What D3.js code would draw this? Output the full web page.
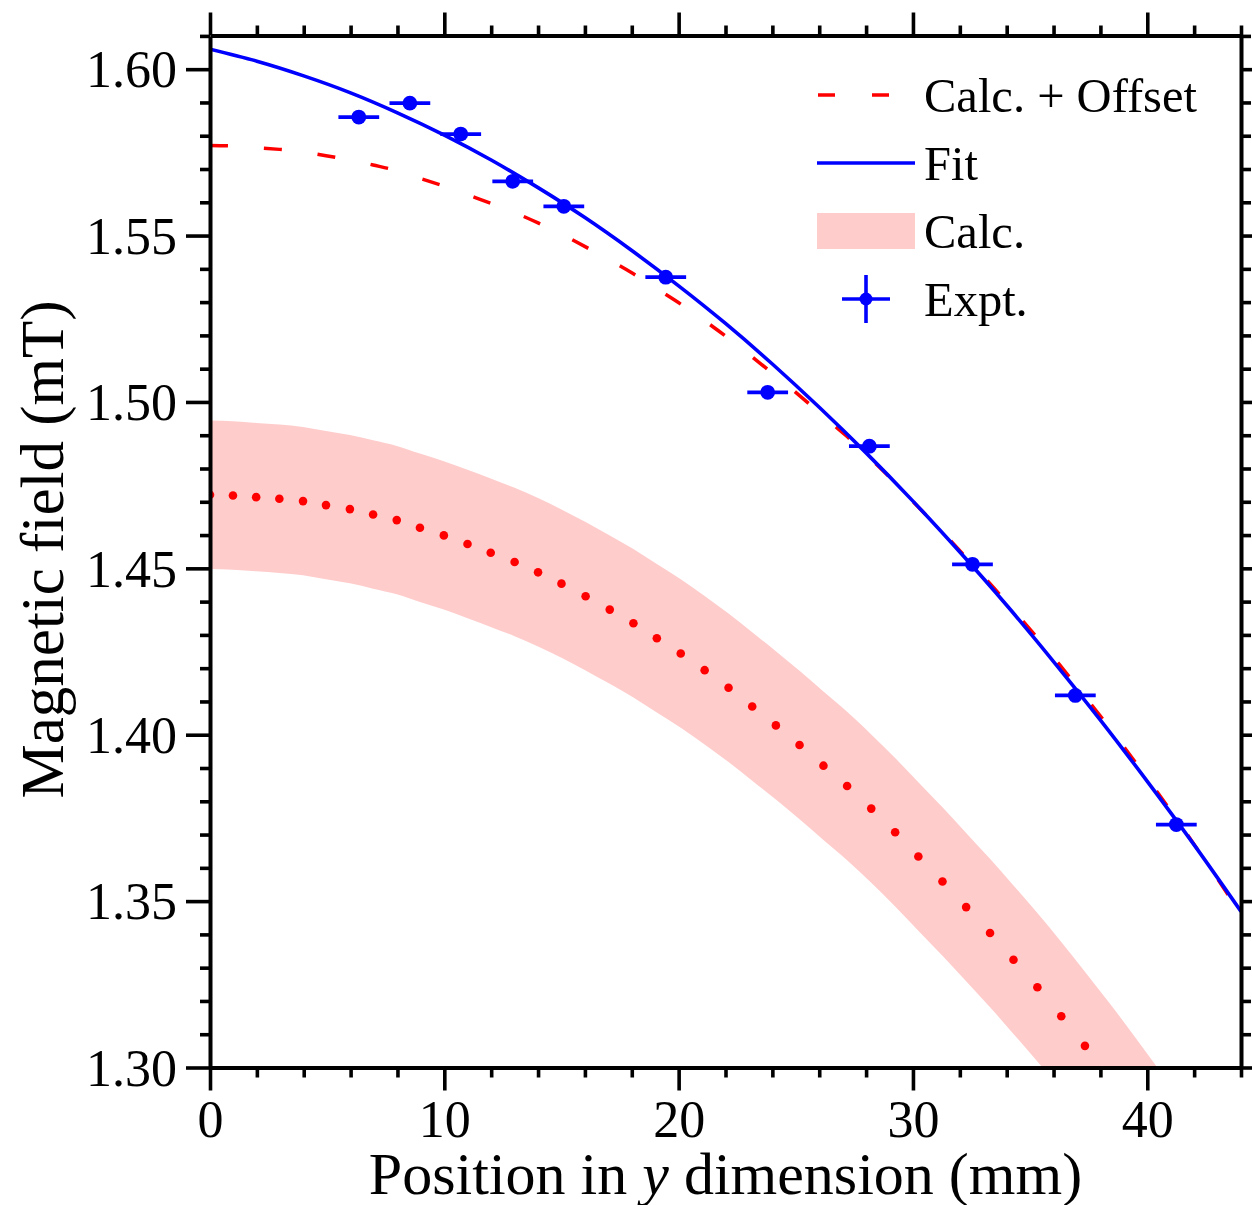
<!DOCTYPE html>
<html><head><meta charset="utf-8">
<script src="https://cdn.jsdelivr.net/npm/d3@7"></script>
<style>
body{margin:0;background:#fff}
svg{display:block}
text{font-family:"Liberation Serif","Times New Roman",Times,serif;fill:#000}
</style>
</head><body>
<svg id="chart" width="1252" height="1205"></svg>
<script>
// ---------- data ----------
const exptX    = [6.35, 8.53, 10.70, 12.92, 15.10, 19.45, 23.80, 28.14, 32.54, 36.93, 41.24];
const exptY    = [1.5856, 1.5898, 1.5805, 1.5663, 1.5588, 1.5375, 1.5029, 1.4867, 1.4512, 1.4118, 1.3730];
const exptXErr = [0.87, 0.87, 0.87, 0.87, 0.87, 0.87, 0.87, 0.87, 0.87, 0.87, 0.87];
const exptYErr = [0.0015, 0.0015, 0.0015, 0.0015, 0.0015, 0.0015, 0.0015, 0.0015, 0.0015, 0.0015, 0.0015];

const fitX = [0, 2, 4, 6, 8, 10, 12, 14, 16, 18, 20, 22, 24, 26, 28, 30, 32, 34, 36, 38, 40, 42, 44];
const fitY = [1.6060, 1.6024, 1.5980, 1.5929, 1.5869, 1.5802, 1.5727, 1.5644, 1.5554, 1.5455, 1.5349,
              1.5236, 1.5114, 1.4984, 1.4847, 1.4702, 1.4549, 1.4389, 1.4220, 1.4044, 1.3860, 1.3669, 1.3469];

const calcX = [0, 0.98, 1.97, 2.96, 3.97, 4.95, 5.97, 6.96, 7.97, 8.96, 9.98, 10.99, 11.98, 13.00, 14.00,
               15.00, 16.03, 17.06, 18.07, 19.07, 20.09, 21.11, 22.13, 23.14, 24.15, 25.16, 26.18, 27.19,
               28.22, 29.24, 30.23, 31.26, 32.27, 33.29, 34.29, 35.31, 36.33, 37.34, 38.36, 39.38, 40.40,
               41.42, 42.44, 43.46, 44.48];
const calcY = [1.4721, 1.4719, 1.4714, 1.4709, 1.4702, 1.4690, 1.4678, 1.4662, 1.4645, 1.4622, 1.4599,
               1.4573, 1.4547, 1.4519, 1.4488, 1.4454, 1.4416, 1.4376, 1.4335, 1.4290, 1.4244, 1.4194,
               1.4141, 1.4085, 1.4028, 1.3969, 1.3907, 1.3846, 1.3778, 1.3707, 1.3634, 1.3559, 1.3482,
               1.3404, 1.3324, 1.3241, 1.3154, 1.3065, 1.2973, 1.2878, 1.2780, 1.2679, 1.2575, 1.2468, 1.2358];
const calcHigh = [1.4944, 1.4942, 1.4937, 1.4932, 1.4925, 1.4913, 1.4901, 1.4885, 1.4868, 1.4845, 1.4822,
                  1.4796, 1.4770, 1.4742, 1.4711, 1.4677, 1.4639, 1.4599, 1.4558, 1.4513, 1.4467, 1.4417,
                  1.4364, 1.4308, 1.4251, 1.4192, 1.4130, 1.4069, 1.4001, 1.3930, 1.3857, 1.3782, 1.3705,
                  1.3627, 1.3547, 1.3464, 1.3377, 1.3288, 1.3196, 1.3101, 1.3003, 1.2902, 1.2798, 1.2691, 1.2581];
const calcLow  = [1.4498, 1.4496, 1.4491, 1.4486, 1.4479, 1.4467, 1.4455, 1.4439, 1.4422, 1.4399, 1.4376,
                  1.4350, 1.4324, 1.4296, 1.4265, 1.4231, 1.4193, 1.4153, 1.4112, 1.4067, 1.4021, 1.3971,
                  1.3918, 1.3862, 1.3805, 1.3746, 1.3684, 1.3623, 1.3555, 1.3484, 1.3411, 1.3336, 1.3259,
                  1.3181, 1.3101, 1.3018, 1.2931, 1.2842, 1.2750, 1.2655, 1.2557, 1.2456, 1.2352, 1.2245, 1.2135];
const calcOffset = 0.105;

const xMajorTicks = [0, 10, 20, 30, 40];
const xTickLabels = ["0", "10", "20", "30", "40"];
const xMinorTicks = [2, 4, 6, 8, 12, 14, 16, 18, 22, 24, 26, 28, 32, 34, 36, 38, 42, 44];
const yMajorTicks = [1.30, 1.35, 1.40, 1.45, 1.50, 1.55, 1.60];
const yTickLabels = ["1.30", "1.35", "1.40", "1.45", "1.50", "1.55", "1.60"];
const yMinorTicks = [1.31, 1.32, 1.33, 1.34, 1.36, 1.37, 1.38, 1.39, 1.41, 1.42, 1.43, 1.44, 1.46, 1.47,
                     1.48, 1.49, 1.51, 1.52, 1.53, 1.54, 1.56, 1.57, 1.58, 1.59, 1.61];
const legendLabels = ["Calc. + Offset", "Fit", "Calc.", "Expt."];
const xTitle = ["Position in ", "y", " dimension (mm)"];
const yTitle = "Magnetic field (mT)";

// ---------- layout ----------
const L = 210, R = 1241, T = 35.5, B = 1067.5;
const BLUE = "#0000ff", RED = "#ff0000", PINK = "#ffcccc";

const svg = d3.select("#chart");
const x = d3.scaleLinear().domain([0, 44]).range([L, R]);
const y = d3.scaleLinear().domain([1.30, 1.61]).range([B, T + 0.4]);

svg.append("defs").append("clipPath").attr("id", "clip")
  .append("rect").attr("x", L).attr("y", T).attr("width", R - L).attr("height", B - T);
const plot = svg.append("g").attr("clip-path", "url(#clip)");

// band
const bandData = calcX.map((d, i) => ({x: d, lo: calcLow[i], hi: calcHigh[i]}));
plot.append("path").datum(bandData)
  .attr("fill", PINK)
  .attr("d", d3.area().curve(d3.curveNatural).x(d => x(d.x)).y0(d => y(d.lo)).y1(d => y(d.hi)));

// dotted calc
plot.append("g").selectAll("circle").data(calcX.map((d, i) => [d, calcY[i]])).join("circle")
  .attr("cx", d => x(d[0])).attr("cy", d => y(d[1])).attr("r", 4.3).attr("fill", RED);

// dashed calc + offset
plot.append("path").datum(calcX.map((d, i) => [d, calcY[i] + calcOffset]))
  .attr("fill", "none").attr("stroke", RED).attr("stroke-width", 3.5)
  .attr("stroke-dasharray", "18,36")
  .attr("d", d3.line().curve(d3.curveNatural).x(d => x(d[0])).y(d => y(d[1])));

// fit
plot.append("path").datum(fitX.map((d, i) => [d, fitY[i]]))
  .attr("fill", "none").attr("stroke", BLUE).attr("stroke-width", 3.6)
  .attr("d", d3.line().curve(d3.curveNatural).x(d => x(d[0])).y(d => y(d[1])));

// experimental points
const ex = plot.append("g");
exptX.forEach((xv, i) => {
  const g = ex.append("g");
  g.append("line").attr("x1", x(xv - exptXErr[i])).attr("x2", x(xv + exptXErr[i]))
    .attr("y1", y(exptY[i])).attr("y2", y(exptY[i])).attr("stroke", BLUE).attr("stroke-width", 3.8);
  g.append("line").attr("x1", x(xv)).attr("x2", x(xv))
    .attr("y1", y(exptY[i] - exptYErr[i])).attr("y2", y(exptY[i] + exptYErr[i]))
    .attr("stroke", BLUE).attr("stroke-width", 3.8);
  g.append("circle").attr("cx", x(xv)).attr("cy", y(exptY[i])).attr("r", 7.4).attr("fill", BLUE);
});

// ---------- axes ----------
function styleAxis(g) {
  g.selectAll(".domain").attr("stroke", "#000").attr("stroke-width", 4);
  g.selectAll(".tick line").attr("stroke", "#000").attr("stroke-width", 3.6);
  g.selectAll(".tick text").attr("font-family", "Liberation Serif").attr("fill", "#000");
}
// minor ticks
svg.append("g").attr("transform", `translate(0,${B})`)
  .call(d3.axisBottom(x).tickValues(xMinorTicks).tickSize(10).tickSizeOuter(0).tickFormat(""))
  .call(styleAxis).call(g => g.select(".domain").remove());
svg.append("g").attr("transform", `translate(0,${T})`)
  .call(d3.axisTop(x).tickValues(xMinorTicks).tickSize(10).tickSizeOuter(0).tickFormat(""))
  .call(styleAxis).call(g => g.select(".domain").remove());
svg.append("g").attr("transform", `translate(${L},0)`)
  .call(d3.axisLeft(y).tickValues(yMinorTicks).tickSize(10).tickSizeOuter(0).tickFormat(""))
  .call(styleAxis).call(g => g.select(".domain").remove());
svg.append("g").attr("transform", `translate(${R},0)`)
  .call(d3.axisRight(y).tickValues(yMinorTicks).tickSize(10).tickSizeOuter(0).tickFormat(""))
  .call(styleAxis).call(g => g.select(".domain").remove());

// major ticks
const xb = svg.append("g").attr("transform", `translate(0,${B})`)
  .call(d3.axisBottom(x).tickValues(xMajorTicks).tickSize(23).tickSizeOuter(0)
    .tickFormat((d, i) => xTickLabels[i]).tickPadding(10))
  .call(styleAxis);
xb.selectAll(".tick text").attr("font-size", 52).attr("dy", "0.7em");
svg.append("g").attr("transform", `translate(0,${T})`)
  .call(d3.axisTop(x).tickValues(xMajorTicks).tickSize(23).tickSizeOuter(0).tickFormat(""))
  .call(styleAxis);
const yl = svg.append("g").attr("transform", `translate(${L},0)`)
  .call(d3.axisLeft(y).tickValues(yMajorTicks).tickSize(24).tickSizeOuter(0)
    .tickFormat((d, i) => yTickLabels[i]).tickPadding(9))
  .call(styleAxis);
yl.selectAll(".tick text").attr("font-size", 52).attr("dy", "0.34em");
svg.append("g").attr("transform", `translate(${R},0)`)
  .call(d3.axisRight(y).tickValues(yMajorTicks).tickSize(23).tickSizeOuter(0).tickFormat(""))
  .call(styleAxis);

// ---------- titles ----------
const xt = svg.append("text").attr("x", (L + R) / 2).attr("y", 1194)
  .attr("text-anchor", "middle").attr("font-size", 60);
xt.append("tspan").text(xTitle[0]);
xt.append("tspan").attr("font-style", "italic").text(xTitle[1]);
xt.append("tspan").text(xTitle[2]);

svg.append("text").attr("transform", `translate(63,${(T + B) / 2 - 2}) rotate(-90)`)
  .attr("text-anchor", "middle").attr("font-size", 61).text(yTitle);

// ---------- legend ----------
const lg = svg.append("g");
const rowY = [95, 163, 231, 299];
const tx = 924;
lg.append("line").attr("x1", 818).attr("x2", 890).attr("y1", rowY[0]).attr("y2", rowY[0])
  .attr("stroke", RED).attr("stroke-width", 3.5).attr("stroke-dasharray", "17,37");
lg.append("line").attr("x1", 817).attr("x2", 915).attr("y1", rowY[1]).attr("y2", rowY[1])
  .attr("stroke", BLUE).attr("stroke-width", 3.6);
lg.append("rect").attr("x", 817).attr("y", rowY[2] - 18).attr("width", 98).attr("height", 36).attr("fill", PINK);
lg.append("line").attr("x1", 842).attr("x2", 890).attr("y1", rowY[3]).attr("y2", rowY[3])
  .attr("stroke", BLUE).attr("stroke-width", 3.6);
lg.append("line").attr("x1", 866).attr("x2", 866).attr("y1", rowY[3] - 24).attr("y2", rowY[3] + 24)
  .attr("stroke", BLUE).attr("stroke-width", 3.6);
lg.append("circle").attr("cx", 866).attr("cy", rowY[3]).attr("r", 6.5).attr("fill", BLUE);

legendLabels.forEach((t, i) => {
  lg.append("text").attr("x", tx).attr("y", rowY[i] + 17).attr("font-size", 48.5).text(t);
});
</script>
</body></html>
